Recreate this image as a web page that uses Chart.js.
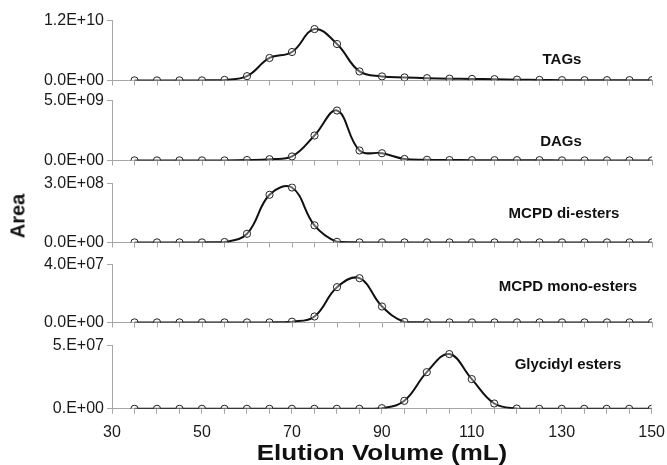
<!DOCTYPE html>
<html><head><meta charset="utf-8">
<script src="https://cdn.jsdelivr.net/npm/chart.js@4.4.0/dist/chart.umd.min.js"></script>
<style>
body{margin:0;background:#fff;width:667px;height:465px;overflow:hidden;position:relative;font-family:'Liberation Sans',Arial,sans-serif;}
canvas{position:absolute;left:0;}
.lbl{position:absolute;font-weight:bold;font-size:15px;color:#111;transform:translate(-50%,-50%);white-space:nowrap;}
.ytitle{position:absolute;font-weight:bold;font-size:20px;color:#111;left:18px;top:216px;transform:translate(-50%,-50%) rotate(-90deg);}
.xtitle{position:absolute;font-weight:bold;font-size:22px;color:#111;left:382px;top:453px;transform:translate(-50%,-50%) scaleX(1.18);white-space:nowrap;}
</style></head><body>
<canvas id="c0"></canvas><canvas id="c1"></canvas><canvas id="c2"></canvas><canvas id="c3"></canvas><canvas id="c4"></canvas>
<div class="ytitle">Area</div>
<div class="xtitle" id="xt"></div>
<div class="lbl" style="left:562px;top:58px">TAGs</div>
<div class="lbl" style="left:561px;top:140px">DAGs</div>
<div class="lbl" style="left:564px;top:212px">MCPD di-esters</div>
<div class="lbl" style="left:568px;top:285px">MCPD mono-esters</div>
<div class="lbl" style="left:568px;top:363px">Glycidyl esters</div>
<script>
// ---- data ----
const xValues = [35,40,45,50,55,60,65,70,75,80,85,90,95,100,105,110,115,120,125,130,135,140,145,150];
const tagsArea = [0,0,0,0,0.1e9,0.85e9,4.5e9,5.7e9,10.3e9,7.3e9,1.8e9,0.8e9,0.6e9,0.45e9,0.35e9,0.3e9,0.25e9,0.15e9,0.1e9,0.05e9,0.05e9,0.05e9,0.05e9,0.05e9];
const dagsArea = [0,0,0,0,0,0.03e9,0.1e9,0.33e9,2.08e9,4.17e9,0.83e9,0.6e9,0.12e9,0.05e9,0.03e9,0.02e9,0.02e9,0.02e9,0.02e9,0,0,0,0,0];
const mcpdDiArea = [0,0,0,0,0.02e8,0.44e8,2.43e8,2.8e8,0.87e8,0.03e8,0,0,0,0,0,0,0,0,0,0,0,0,0,0];
const mcpdMonoArea = [0,0,0,0,0,0,0,0.05e7,0.41e7,2.44e7,3.06e7,1.1e7,0.03e7,0,0,0,0,0,0,0,0,0,0,0];
const glycidylArea = [0,0,0,0,0,0,0,0,0,0,0,0.05e7,0.63e7,2.9e7,4.33e7,2.35e7,0.42e7,0.02e7,0,0,0,0,0,0];
const seriesNames = ['TAGs','DAGs','MCPD di-esters','MCPD mono-esters','Glycidyl esters'];
const seriesValues = [tagsArea, dagsArea, mcpdDiArea, mcpdMonoArea, glycidylArea];
const yMaxValues = [1.2e10, 5e9, 3e8, 4e7, 5e7];
const yTickLabels = [['0.0E+00','1.2E+10'],['0.0E+00','5.0E+09'],['0.0E+00','3.0E+08'],['0.0E+00','4.0E+07'],['0.E+00','5.E+07']];
const xTickLabels = [30,50,70,90,110,130,150];
const xMin = 30, xMax = 150, xStep = 5;
const xTitle = 'Elution Volume (mL)';
document.getElementById('xt').textContent = xTitle;

// ---- layout ----
const panelBounds = [[20.5,80],[101,160.5],[184,243],[265,322.5],[346,409.5]];
const plotLeft = 112, plotRight = 652;
const axisColor = '#a6a6a6', textColor = '#1a1a1a';
const tickFont = {family:"'Liberation Sans', Arial, sans-serif", size:16};

panelBounds.forEach((b, i) => {
  const isLast = i === panelBounds.length - 1;
  const canvas = document.getElementById('c' + i);
  canvas.width = 667; canvas.height = 120;
  const maxV = yMaxValues[i];
  const chart = new Chart(canvas, {
    type: 'line',
    data: {
      datasets: [{
        label: seriesNames[i],
        data: xValues.map((x, k) => ({x: x, y: seriesValues[i][k]})),
        borderColor: '#111', borderWidth: 2, tension: 0.4,
        pointRadius: 3.6, pointBorderWidth: 1, pointBorderColor: '#222',
        pointBackgroundColor: 'rgba(255,255,255,0.35)', fill: false
      }]
    },
    options: {
      responsive: false, maintainAspectRatio: false, animation: false, devicePixelRatio: 1,
      layout: {padding: {left: 0, right: 15, top: 12, bottom: 0}},
      plugins: {legend: {display: false}, tooltip: {enabled: false}},
      scales: {
        x: {
          type: 'linear', min: xMin, max: xMax,
          border: {display: true, color: axisColor, width: 1},
          grid: {drawOnChartArea: false, drawTicks: true, tickLength: 5, color: axisColor},
          ticks: {
            display: isLast, stepSize: xStep, autoSkip: false, maxRotation: 0,
            padding: 9, color: textColor, font: tickFont,
            callback: v => xTickLabels.includes(v) ? String(v) : ''
          }
        },
        y: {
          type: 'linear', min: 0, max: maxV,
          afterBuildTicks: s => { s.ticks = [{value: 0}, {value: maxV}]; },
          afterFit: s => { s.width = plotLeft; },
          border: {display: true, color: axisColor, width: 1},
          grid: {drawOnChartArea: false, drawTicks: true, tickLength: 5, color: axisColor},
          ticks: {
            padding: 3, color: textColor, font: tickFont,
            callback: v => v === 0 ? yTickLabels[i][0] : yTickLabels[i][1]
          }
        }
      }
    }
  });
  let area = chart.chartArea;
  const overhead = canvas.height - (area.bottom - area.top);
  const newH = Math.round((b[1] - b[0]) + overhead);
  let w = 667;
  for (let k = 0; k < 3; k++) {
    chart.resize(w, newH);
    w = Math.round(w + (plotRight - chart.chartArea.right));
  }
  chart.resize(w, newH);
  canvas.style.top = (b[0] - chart.chartArea.top) + 'px';
});
</script>
</body></html>
